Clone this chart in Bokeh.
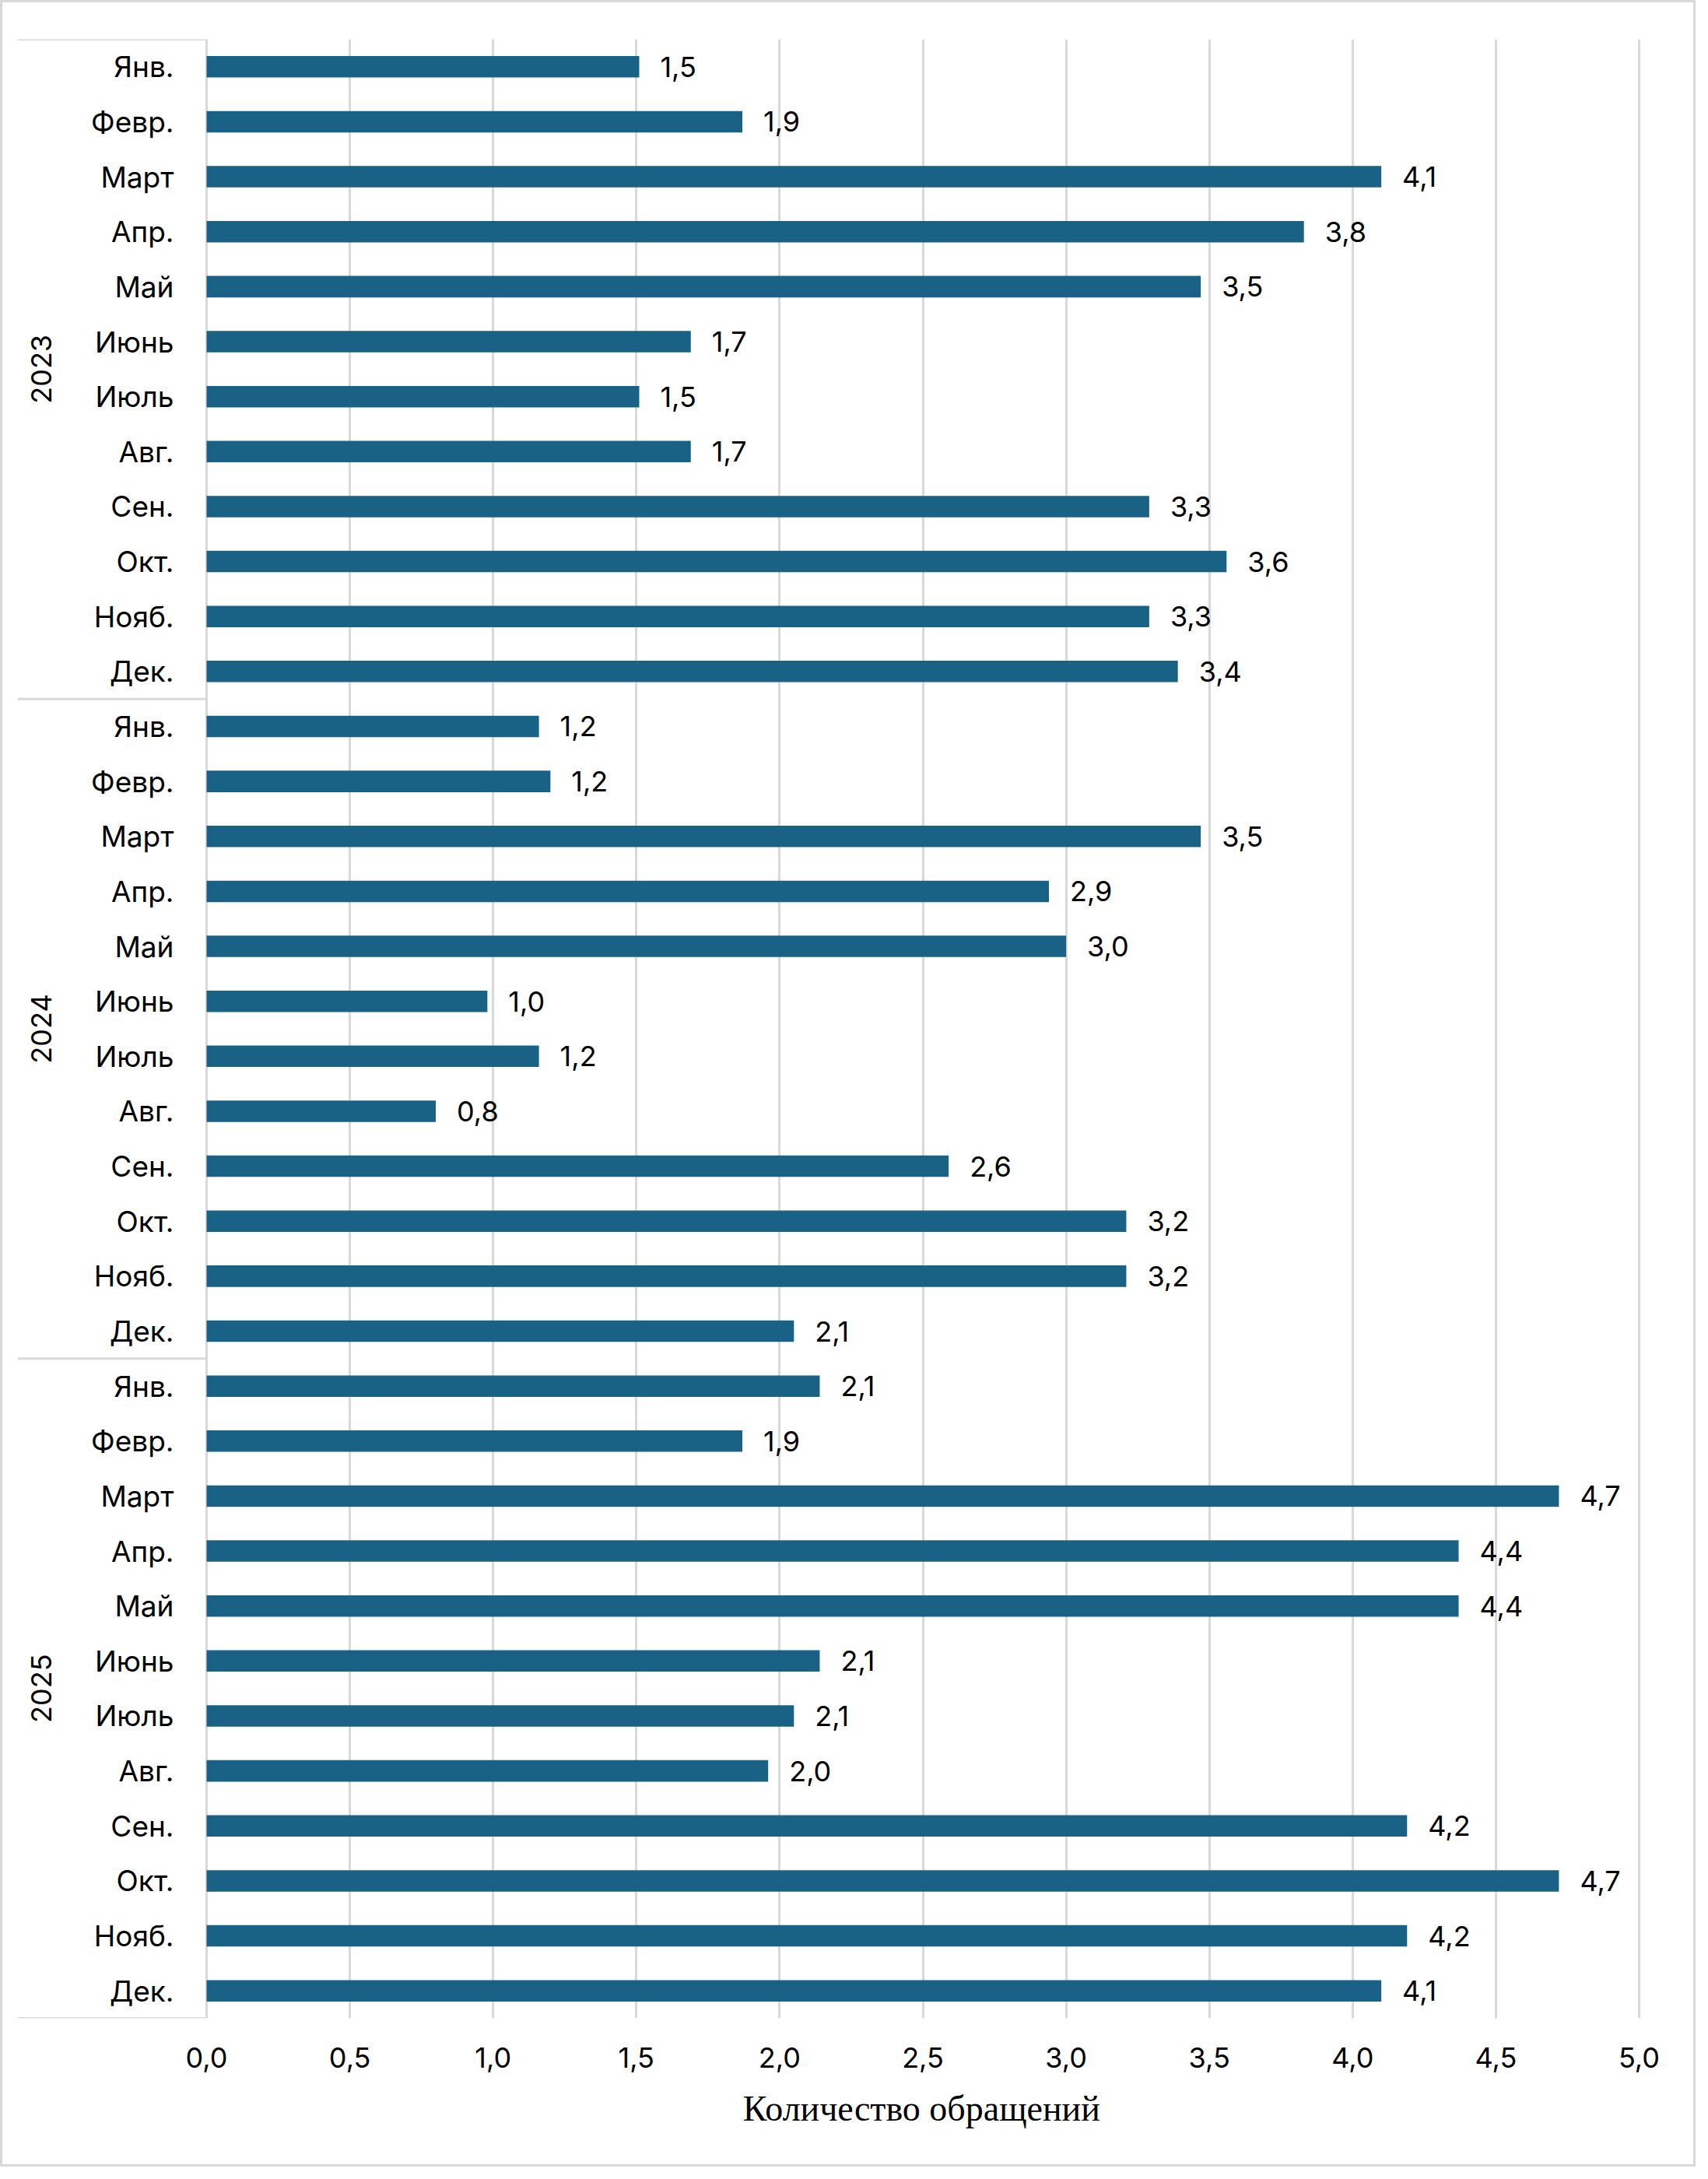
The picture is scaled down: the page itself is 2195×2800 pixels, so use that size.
import math
from bokeh.plotting import figure
from bokeh.models import ColumnDataSource, FactorRange, Range1d, FixedTicker, Title
from bokeh.core.properties import value
from bokeh.embed import file_html
from bokeh.resources import INLINE

# ---------------- data ----------------
years = ["2023", "2024", "2025"]
months = ["Янв.", "Февр.", "Март", "Апр.", "Май", "Июнь",
          "Июль", "Авг.", "Сен.", "Окт.", "Нояб.", "Дек."]

values_2023 = [1.51, 1.87, 4.10, 3.83, 3.47, 1.69, 1.51, 1.69, 3.29, 3.56, 3.29, 3.39]
values_2024 = [1.16, 1.20, 3.47, 2.94, 3.00, 0.98, 1.16, 0.80, 2.59, 3.21, 3.21, 2.05]
values_2025 = [2.14, 1.87, 4.72, 4.37, 4.37, 2.14, 2.05, 1.96, 4.19, 4.72, 4.19, 4.10]

labels_2023 = ["1,5", "1,9", "4,1", "3,8", "3,5", "1,7", "1,5", "1,7", "3,3", "3,6", "3,3", "3,4"]
labels_2024 = ["1,2", "1,2", "3,5", "2,9", "3,0", "1,0", "1,2", "0,8", "2,6", "3,2", "3,2", "2,1"]
labels_2025 = ["2,1", "1,9", "4,7", "4,4", "4,4", "2,1", "2,1", "2,0", "4,2", "4,7", "4,2", "4,1"]

x_ticks = [0.0, 0.5, 1.0, 1.5, 2.0, 2.5, 3.0, 3.5, 4.0, 4.5, 5.0]
x_tick_labels = ["0,0", "0,5", "1,0", "1,5", "2,0", "2,5", "3,0", "3,5", "4,0", "4,5", "5,0"]
x_title = "Количество обращений"

# ---------------- layout / style ----------------
W, H = 2179, 2784
FRAME_LEFT, ZERO_PX, FIVE_PX, FRAME_RIGHT = 19, 262, 2103, 2106
FRAME_TOP, FRAME_BOTTOM = 47, 2590
px_per_unit = (FIVE_PX - ZERO_PX) / 5.0
x_start = -(ZERO_PX - FRAME_LEFT) / px_per_unit
x_end = 5.0 + (FRAME_RIGHT - FIVE_PX) / px_per_unit

BAR = "#1a6186"
GRID = "#d9d9d9"
FONT = "Inter"
FS = "36px"
FS_CAT = "37px"
TITLE_FS = 46
TITLE_W = 10.05 * TITLE_FS          # approx. rendered width of the serif title
title_offset = (ZERO_PX + FIVE_PX) / 2 - TITLE_W / 2 - FRAME_LEFT

all_values = values_2023 + values_2024 + values_2025
all_labels = labels_2023 + labels_2024 + labels_2025
factors = [(y, m) for y in years for m in months]
n = len(factors)

src = ColumnDataSource(dict(
    y=factors, v=all_values, lab=all_labels,
    m=[f[1] for f in factors], zero=[0.0] * n,
))

p = figure(width=W, height=H,
           y_range=FactorRange(*list(reversed(factors)), range_padding=0,
                               factor_padding=0, group_padding=0, subgroup_padding=0),
           x_range=Range1d(x_start, x_end),
           output_backend="svg", toolbar_location=None, y_axis_location=None,
           min_border_left=FRAME_LEFT, min_border_right=W - FRAME_RIGHT,
           min_border_top=FRAME_TOP, min_border_bottom=H - FRAME_BOTTOM)
p.outline_line_color = None
p.background_fill_color = "white"
p.border_fill_color = "white"
p.styles = {"border": "3px solid #d9d9d9", "box-sizing": "border-box"}

p.xgrid.ticker = FixedTicker(ticks=x_ticks)
p.xgrid.grid_line_color = GRID
p.xgrid.grid_line_width = 3
p.ygrid.visible = False

ax = p.xaxis[0]
ax.ticker = FixedTicker(ticks=x_ticks)
ax.major_label_overrides = dict(zip(x_ticks, x_tick_labels))
ax.axis_line_color = None
ax.major_tick_line_color = None
ax.minor_tick_line_color = None
ax.major_label_text_font = FONT
ax.major_label_text_font_size = FS
ax.major_label_text_color = "black"
ax.major_label_standoff = 31

title = Title(text=x_title, align="left", offset=title_offset,
              text_font="Liberation Serif", text_font_size=f"{TITLE_FS}px",
              text_font_style="normal", text_color="black", standoff=44)
p.add_layout(title, "below")

p.hbar(y="y", left=0, right="v", height=0.39, source=src,
       fill_color=BAR, line_color=None)

p.text(x="v", y="y", text="lab", source=src, x_offset=27,
       text_align="left", text_baseline="middle",
       text_font=value(FONT), text_font_size=FS, text_color="black")

p.text(x="zero", y="y", text="m", source=src, x_offset=-42,
       text_align="right", text_baseline="middle",
       text_font=value(FONT), text_font_size=FS_CAT, text_color="black")

ysrc = ColumnDataSource(dict(y=years, t=years, zero=[0.0] * len(years)))
p.text(x="zero", y="y", text="t", source=ysrc, x_offset=-213, angle=math.pi / 2,
       text_align="center", text_baseline="middle",
       text_font=value(FONT), text_font_size=FS, text_color="black")

# group separators on the label side
bounds_y = [(years[0], months[0], 0.5)] + [(yr, months[-1], -0.5) for yr in years]
sep = ColumnDataSource(dict(y=bounds_y, x0=[x_start] * len(bounds_y), x1=[0.0] * len(bounds_y)))
p.segment(x0="x0", x1="x1", y0="y", y1="y", source=sep,
          line_color=GRID, line_width=3)

open("out.html", "w").write(file_html(p, INLINE))
